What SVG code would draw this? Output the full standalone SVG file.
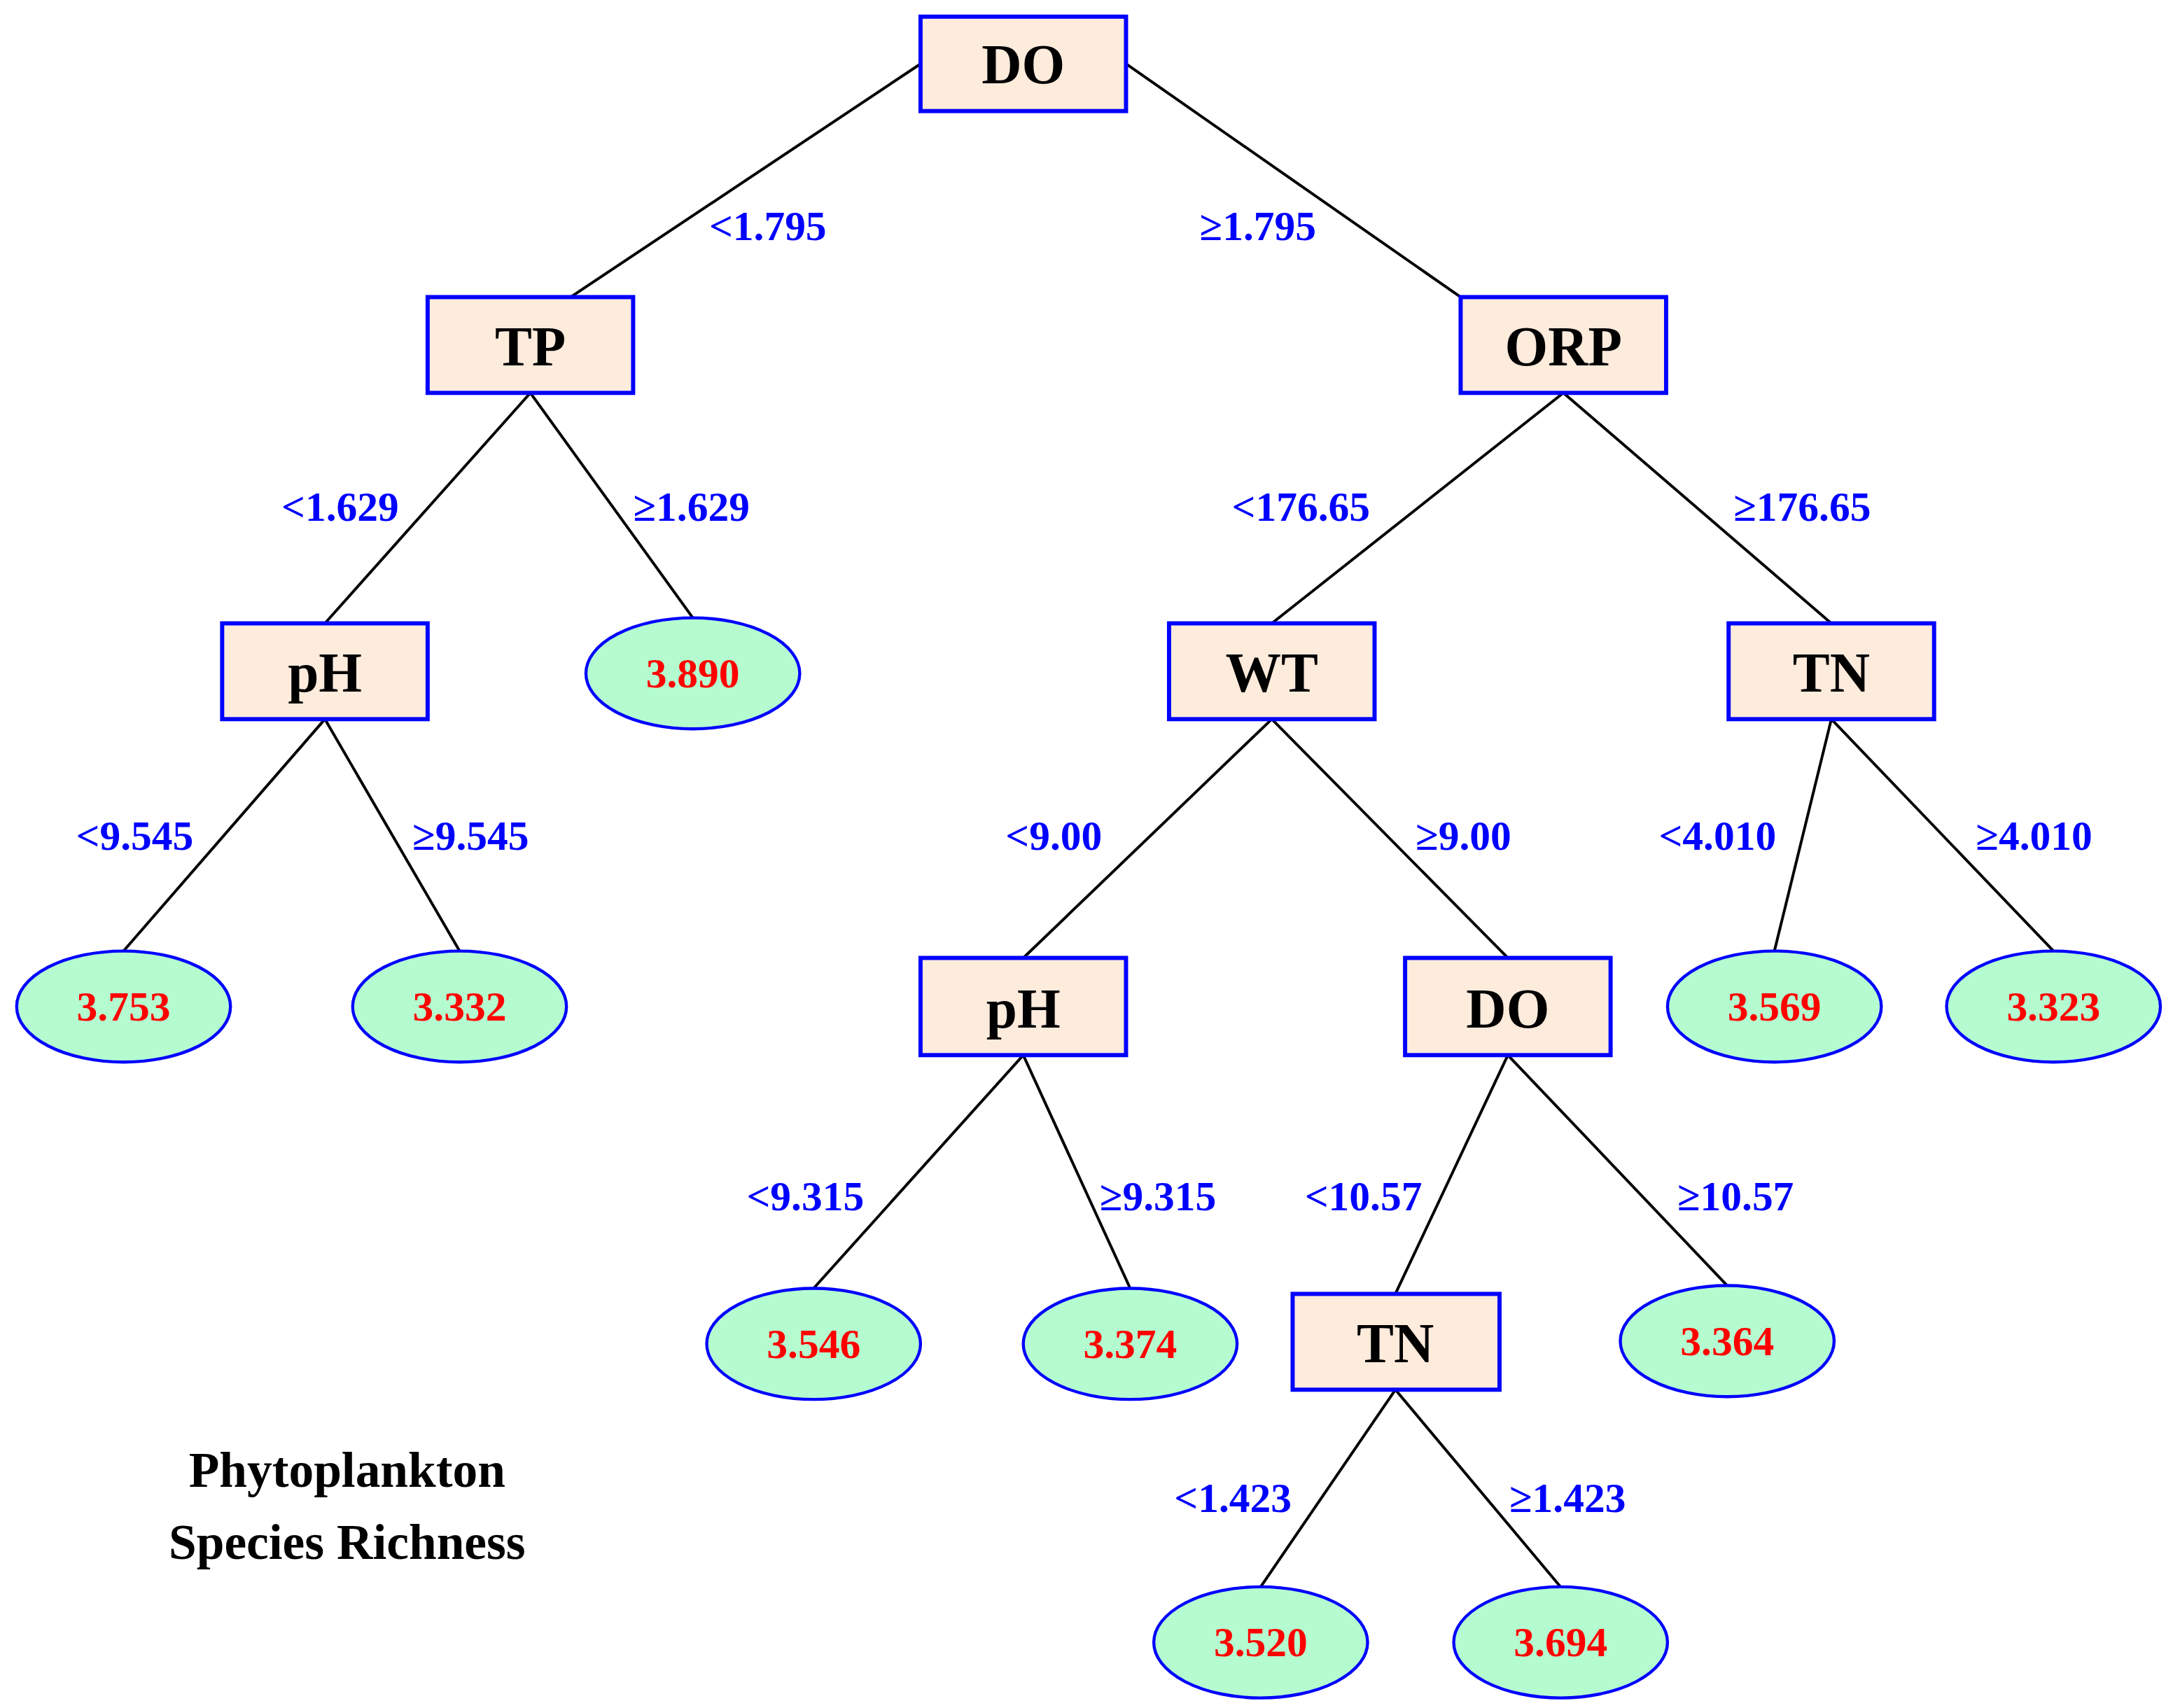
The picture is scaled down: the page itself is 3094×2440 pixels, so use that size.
<svg xmlns="http://www.w3.org/2000/svg" width="3094" height="2440" viewBox="0 0 3094 2440">
<style>
.box{fill:#fdebdc;stroke:#0000ff;stroke-width:3}
.leaf{fill:#b4fcd0;stroke:#0000ff;stroke-width:2.2}
.nt{font-family:"Liberation Serif",serif;font-weight:bold;font-size:40px;fill:#000;text-anchor:middle}
.lt{font-family:"Liberation Serif",serif;font-weight:bold;font-size:30px;fill:#ff0000;text-anchor:middle}
.el{font-family:"Liberation Serif",serif;font-weight:bold;font-size:30px;fill:#0000ff;text-anchor:middle}
.tt{font-family:"Liberation Serif",serif;font-weight:bold;font-size:36px;fill:#000;text-anchor:middle}
#edges line{stroke:#000;stroke-width:2}
</style>
<rect width="3094" height="2440" fill="#fff"/>
<g transform="scale(1.9833)">
<g id="edges">
<line x1="663" y1="46" x2="411" y2="214"/>
<line x1="811" y1="46" x2="1052" y2="214"/>
<line x1="382" y1="283" x2="234" y2="449"/>
<line x1="382" y1="283" x2="499" y2="445"/>
<line x1="234" y1="518" x2="89" y2="685"/>
<line x1="234" y1="518" x2="331" y2="685"/>
<line x1="1126" y1="283" x2="916" y2="449"/>
<line x1="1126" y1="283" x2="1319" y2="449"/>
<line x1="916" y1="518" x2="737" y2="690"/>
<line x1="916" y1="518" x2="1086" y2="690"/>
<line x1="1319" y1="518" x2="1278" y2="685"/>
<line x1="1319" y1="518" x2="1479" y2="685"/>
<line x1="737" y1="760" x2="586" y2="928"/>
<line x1="737" y1="760" x2="814" y2="928"/>
<line x1="1086" y1="760" x2="1005" y2="932"/>
<line x1="1086" y1="760" x2="1244" y2="926"/>
<line x1="1005" y1="1001" x2="908" y2="1143"/>
<line x1="1005" y1="1001" x2="1124" y2="1143"/>
<text class="el" x="553" y="173">&lt;1.795</text>
<text class="el" x="906" y="173">≥1.795</text>
<text class="el" x="245" y="375">&lt;1.629</text>
<text class="el" x="498" y="375">≥1.629</text>
<text class="el" x="937" y="375">&lt;176.65</text>
<text class="el" x="1298" y="375">≥176.65</text>
<text class="el" x="97" y="612">&lt;9.545</text>
<text class="el" x="339" y="612">≥9.545</text>
<text class="el" x="759" y="612">&lt;9.00</text>
<text class="el" x="1054" y="612">≥9.00</text>
<text class="el" x="1237" y="612">&lt;4.010</text>
<text class="el" x="1465" y="612">≥4.010</text>
<text class="el" x="580" y="872">&lt;9.315</text>
<text class="el" x="834" y="872">≥9.315</text>
<text class="el" x="982" y="872">&lt;10.57</text>
<text class="el" x="1250" y="872">≥10.57</text>
<text class="el" x="888" y="1089">&lt;1.423</text>
<text class="el" x="1129" y="1089">≥1.423</text>
</g>
<g id="n-do"><rect class="box" x="663" y="12" width="148" height="68"/><text class="nt" x="737" y="60">DO</text></g>
<g id="n-tp"><rect class="box" x="308" y="214" width="148" height="69"/><text class="nt" x="382" y="263">TP</text></g>
<g id="n-orp"><rect class="box" x="1052" y="214" width="148" height="69"/><text class="nt" x="1126" y="263">ORP</text></g>
<g id="n-ph1"><rect class="box" x="160" y="449" width="148" height="69"/><text class="nt" x="234" y="498">pH</text></g>
<g id="n-wt"><rect class="box" x="842" y="449" width="148" height="69"/><text class="nt" x="916" y="498">WT</text></g>
<g id="n-tn1"><rect class="box" x="1245" y="449" width="148" height="69"/><text class="nt" x="1319" y="498">TN</text></g>
<g id="n-ph2"><rect class="box" x="663" y="690" width="148" height="70"/><text class="nt" x="737" y="740">pH</text></g>
<g id="n-do2"><rect class="box" x="1012" y="690" width="148" height="70"/><text class="nt" x="1086" y="740">DO</text></g>
<g id="n-tn2"><rect class="box" x="931" y="932" width="149" height="69"/><text class="nt" x="1005" y="981">TN</text></g>
<g id="l1"><ellipse class="leaf" cx="499" cy="485" rx="77" ry="40"/><text class="lt" x="499" y="495">3.890</text></g>
<g id="l2"><ellipse class="leaf" cx="89" cy="725" rx="77" ry="40"/><text class="lt" x="89" y="735">3.753</text></g>
<g id="l3"><ellipse class="leaf" cx="331" cy="725" rx="77" ry="40"/><text class="lt" x="331" y="735">3.332</text></g>
<g id="l4"><ellipse class="leaf" cx="1278" cy="725" rx="77" ry="40"/><text class="lt" x="1278" y="735">3.569</text></g>
<g id="l5"><ellipse class="leaf" cx="1479" cy="725" rx="77" ry="40"/><text class="lt" x="1479" y="735">3.323</text></g>
<g id="l6"><ellipse class="leaf" cx="586" cy="968" rx="77" ry="40"/><text class="lt" x="586" y="978">3.546</text></g>
<g id="l7"><ellipse class="leaf" cx="814" cy="968" rx="77" ry="40"/><text class="lt" x="814" y="978">3.374</text></g>
<g id="l8"><ellipse class="leaf" cx="1244" cy="966" rx="77" ry="40"/><text class="lt" x="1244" y="976">3.364</text></g>
<g id="l9"><ellipse class="leaf" cx="908" cy="1183" rx="77" ry="40"/><text class="lt" x="908" y="1193">3.520</text></g>
<g id="l10"><ellipse class="leaf" cx="1124" cy="1183" rx="77" ry="40"/><text class="lt" x="1124" y="1193">3.694</text></g>
<g id="title"><text class="tt" x="250" y="1071">Phytoplankton</text><text class="tt" x="250" y="1123">Species Richness</text></g>
</g>
</svg>
